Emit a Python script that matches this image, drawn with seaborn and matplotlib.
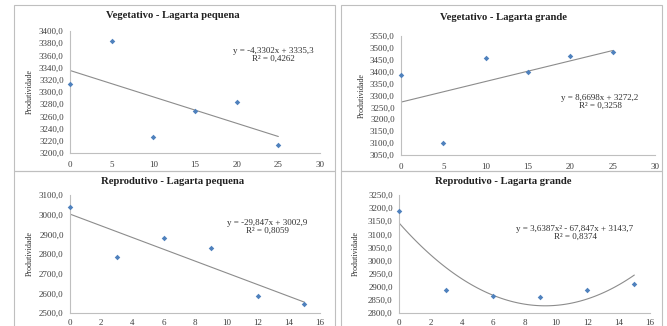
import numpy as np
import pandas as pd
import matplotlib
matplotlib.use("Agg")
import matplotlib.pyplot as plt
from matplotlib.patches import Rectangle
import seaborn as sns

sns.set_style("white")
plt.rcParams['font.family'] = ['Liberation Serif', 'DejaVu Serif']

# ---- data ----
titles = ["Vegetativo - Lagarta pequena", "Vegetativo - Lagarta grande",
          "Reprodutivo - Lagarta pequena", "Reprodutivo - Lagarta grande"]
x_veg = [0, 5, 10, 15, 20, 25]
x_rep = [0, 3, 6, 9, 12, 15]
y_veg_peq = [3313, 3383, 3226, 3269, 3284, 3213]
y_veg_gra = [3385, 3102, 3457, 3397, 3464, 3484]
y_rep_peq = [3040, 2787, 2882, 2833, 2587, 2545]
y_rep_gra = [3190, 2886, 2864, 2862, 2889, 2912]
# trendline coefficients (highest degree first)
coef_veg_peq = [-4.3302, 3335.3]
coef_veg_gra = [8.6698, 3272.2]
coef_rep_peq = [-29.847, 3002.9]
coef_rep_gra = [3.6387, -67.847, 3143.7]
equations = ["y = -4,3302x + 3335,3\nR² = 0,4262",
             "y = 8,6698x + 3272,2\nR² = 0,3258",
             "y = -29,847x + 3002,9\nR² = 0,8059",
             "y = 3,6387x² - 67,847x + 3143,7\nR² = 0,8374"]
ylims = [(3200, 3400), (3050, 3550), (2500, 3100), (2800, 3250)]
ysteps = [20, 50, 100, 50]
xlims = [(0, 30), (0, 30), (0, 16), (0, 16)]
xsteps = [5, 5, 2, 2]
ylabel = "Produtividade"

W, H = 667, 326
fig = plt.figure(figsize=(W / 100, H / 100), dpi=100)

def fx(px):
    return px / W

def fy(py):
    return 1 - py / H

# panel frames (pixel boxes: left, top, right, bottom)
frames = [(14, 5, 335, 171), (341, 5, 662, 171), (14, 171, 335, 330), (341, 171, 662, 330)]
for l, t, r, b in frames:
    fig.patches.append(Rectangle((fx(l), fy(b)), fx(r - l), (b - t) / H,
                                 transform=fig.transFigure, fill=False,
                                 edgecolor="#BFBFBF", lw=0.8))

axes_px = [(70, 31, 320, 153), (401, 36, 655, 155), (70, 195, 320, 313), (399, 195, 650, 313)]
title_px = [(173, 16), (503, 17), (173, 182), (503, 181)]
eq_px = [(273, 55), (600, 102), (267, 227), (575, 233)]
ylab_px = [30, 362, 30, 356]
xpads = [3, 3, 1.5, 1.5]

xs = [x_veg, x_veg, x_rep, x_rep]
ys = [y_veg_peq, y_veg_gra, y_rep_peq, y_rep_gra]
coefs = [coef_veg_peq, coef_veg_gra, coef_rep_peq, coef_rep_gra]

for i in range(4):
    l, t, r, b = axes_px[i]
    ax = fig.add_axes([fx(l), fy(b), (r - l) / W, (b - t) / H])
    df = pd.DataFrame({"x": xs[i], "y": ys[i]})
    xfit = np.linspace(min(xs[i]), max(xs[i]), 100)
    yfit = np.polyval(coefs[i], xfit)
    sns.lineplot(x=xfit, y=yfit, ax=ax, color="#8C8C8C", lw=0.8)
    sns.scatterplot(data=df, x="x", y="y", ax=ax, marker="D", s=8,
                    color="#4F81BD", edgecolor="#4F81BD", linewidth=0, zorder=3, clip_on=False)
    ax.set_xlim(*xlims[i])
    ax.set_ylim(*ylims[i])
    ax.set_xticks(np.arange(xlims[i][0], xlims[i][1] + 0.01, xsteps[i]))
    yt = np.arange(ylims[i][0], ylims[i][1] + 0.01, ysteps[i])
    ax.set_yticks(yt)
    ax.set_yticklabels([f"{v:.1f}".replace(".", ",") for v in yt])
    ax.set_xlabel("")
    ax.set_ylabel("")
    for s in ["top", "right"]:
        ax.spines[s].set_visible(False)
    for s in ["left", "bottom"]:
        ax.spines[s].set_color("#BFBFBF")
        ax.spines[s].set_linewidth(0.8)
    ax.tick_params(axis="both", which="both", direction="out", length=2.5, width=0.6,
                   color="#BFBFBF", labelsize=6.5, labelcolor="#404040", pad=2)
    ax.tick_params(axis="x", pad=xpads[i])
    ax.patch.set_alpha(0)
    tx, ty = title_px[i]
    fig.text(fx(tx), fy(ty), titles[i], ha="center", va="center",
             fontsize=7.7, fontweight="bold", color="#202020")
    ex, ey = eq_px[i]
    fig.text(fx(ex), fy(ey), equations[i], ha="center", va="center",
             fontsize=6.5, color="#303030", linespacing=1.0)
    fig.text(fx(ylab_px[i]), (fy(t) + fy(b)) / 2, ylabel, rotation=90,
             ha="center", va="center", fontsize=5.8, color="#303030")

fig.savefig("out.png", dpi=100)
